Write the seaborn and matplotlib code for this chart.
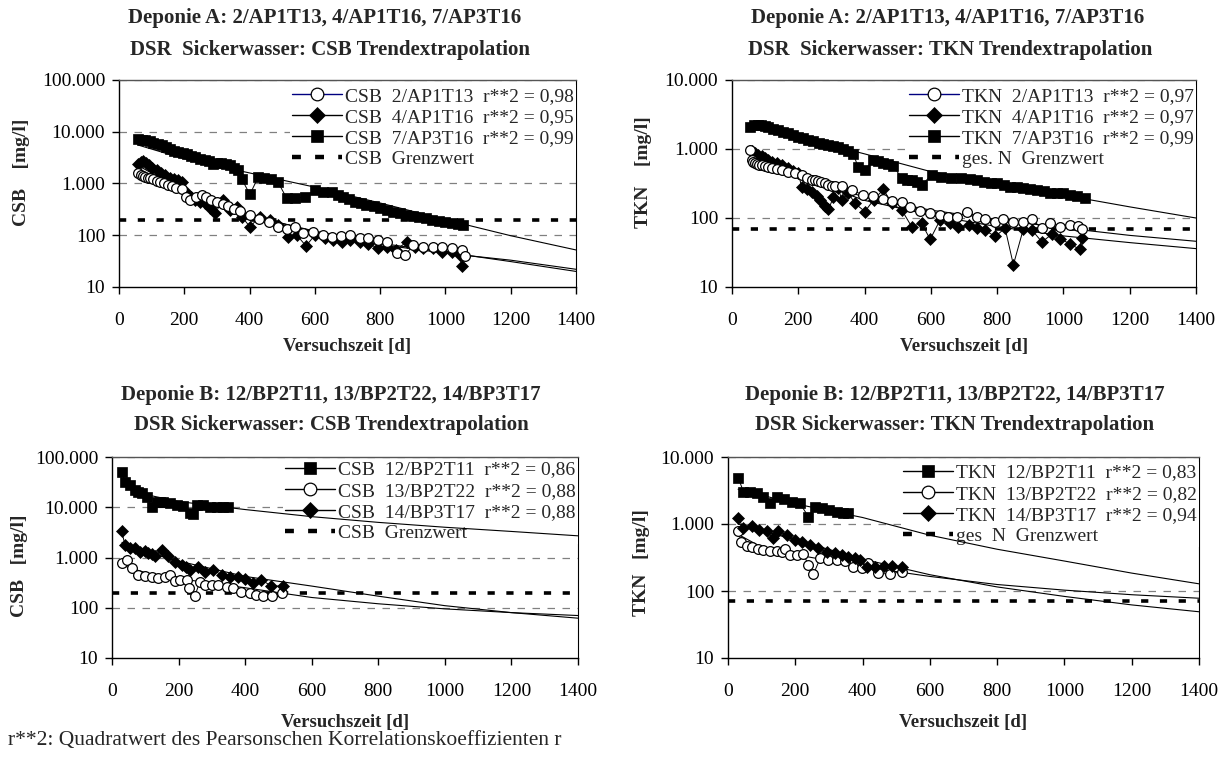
import numpy as np
import pandas as pd
import seaborn as sns
import matplotlib.pyplot as plt
from matplotlib.lines import Line2D
from matplotlib.ticker import NullLocator

# ---------------- data ----------------
# Deponie A, CSB
a_csb7_x = [59, 70, 80, 95, 105, 120, 131, 145, 156, 170, 182, 195, 207, 220, 233, 248, 263, 275, 289, 300,
            314, 327, 340, 352, 365, 376, 401, 427, 445, 465, 486, 514, 539, 570, 600, 625, 651, 670, 687, 705,
            723, 740, 758, 780, 800, 820, 840, 860, 880, 900, 920, 940, 960, 980, 1000, 1020, 1040, 1054]
a_csb7_y = [7150, 7000, 6930, 6600, 6150, 5800, 5550, 5000, 4580, 4300, 4120, 3900, 3710, 3450, 3200, 3000,
            2840, 2700, 2400, 2450, 2500, 2350, 2270, 2000, 1820, 1220, 616, 1350, 1250, 1200, 1090, 517, 517,
            556, 748, 700, 695, 600, 560, 500, 447, 420, 385, 360, 340, 310, 285, 265, 245, 235, 225, 215, 200,
            190, 182, 176, 168, 160]
a_csb2_x = [59, 66, 73, 80, 88, 96, 105, 115, 125, 138, 150, 162, 175, 192, 205, 218, 235, 253, 268, 283,
            300, 318, 335, 352, 370, 401, 430, 460, 488, 515, 539, 565, 595, 626, 651, 680, 707, 738, 764, 792,
            820, 851, 876, 902, 932, 963, 989, 1020, 1051, 1060]
a_csb2_y = [1570, 1450, 1400, 1350, 1300, 1250, 1200, 1100, 1050, 1000, 950, 880, 820, 780, 560, 480, 560,
            600, 550, 480, 430, 400, 360, 320, 290, 246, 210, 180, 146, 130, 146, 110, 118, 101, 94, 95, 101,
            87, 87, 80, 75, 45, 41, 65, 60, 60, 60, 56, 51, 40]
a_csb4_x = [59, 66, 74, 82, 92, 102, 115, 128, 142, 156, 170, 182, 192, 207, 220, 233, 248, 263, 278, 294,
            319, 340, 360, 376, 401, 432, 462, 488, 518, 545, 573, 600, 631, 656, 682, 707, 738, 763, 794, 820,
            850, 881, 906, 932, 963, 989, 1020, 1045, 1050]
a_csb4_y = [2380, 2600, 2720, 2500, 2250, 2000, 1800, 1600, 1450, 1300, 1200, 1150, 1085, 650, 560, 480, 430,
            414, 330, 265, 480, 307, 355, 229, 146, 229, 197, 158, 93, 100, 62, 101, 87, 81, 75, 81, 75, 69,
            56, 60, 52, 75, 60, 56, 56, 48, 48, 41, 25]
a_fit_x = [60, 200, 400, 600, 800, 1000, 1200, 1400]
a_csb7_fit = [5500, 3000, 1600, 850, 420, 200, 98, 52]
a_csb2_fit = [1600, 600, 240, 120, 70, 47, 31, 20]
a_csb4_fit = [2200, 700, 250, 115, 66, 45, 33, 22]

# Deponie A, TKN
a_tkn7_x = [55, 66, 77, 88, 99, 110, 125, 140, 155, 170, 185, 200, 215, 230, 245, 261, 276, 291, 306, 321,
            336, 351, 366, 380, 401, 426, 441, 457, 472, 487, 512, 527, 542, 557, 572, 602, 632, 660, 690, 718,
            740, 759, 780, 799, 820, 839, 860, 879, 900, 920, 940, 960, 980, 1000, 1020, 1041, 1066]
a_tkn7_y = [2100, 2200, 2230, 2200, 2150, 2060, 1980, 1880, 1780, 1690, 1600, 1510, 1430, 1350, 1290, 1235,
            1190, 1143, 1100, 1057, 1000, 920, 850, 555, 497, 693, 660, 634, 600, 568, 376, 360, 355, 330, 301,
            417, 398, 385, 376, 363, 350, 336, 325, 318, 300, 285, 278, 270, 262, 255, 245, 233, 230, 228, 218,
            209, 193]
a_tkn2_x = [54, 59, 64, 70, 76, 82, 90, 100, 110, 120, 135, 150, 170, 190, 210, 225, 240, 250, 260, 270,
            280, 291, 301, 311, 331, 361, 396, 426, 457, 482, 512, 537, 567, 598, 628, 653, 678, 709, 739, 764,
            795, 819, 849, 879, 904, 935, 960, 990, 1020, 1045, 1055]
a_tkn2_y = [968, 700, 650, 620, 600, 590, 586, 560, 540, 525, 510, 490, 470, 450, 420, 376, 360, 355, 345,
            336, 320, 301, 295, 294, 290, 255, 215, 209, 186, 178, 169, 143, 128, 117, 110, 105, 103, 123, 104,
            96, 88, 96, 88, 88, 96, 71, 85, 75, 78, 76, 70]
a_tkn4_x = [59, 70, 79, 90, 100, 110, 120, 135, 150, 170, 185, 200, 210, 225, 241, 256, 266, 280, 291, 306,
            321, 331, 351, 371, 401, 427, 457, 482, 512, 542, 572, 598, 628, 658, 683, 714, 739, 764, 794, 824,
            849, 879, 904, 935, 965, 990, 1020, 1050, 1055]
a_tkn4_y = [920, 870, 820, 780, 740, 700, 656, 620, 580, 525, 480, 450, 284, 260, 241, 210, 182, 150, 133,
            200, 270, 182, 230, 163, 124, 182, 260, 163, 131, 75, 84, 49, 94, 84, 73, 79, 71, 66, 54, 71, 21,
            69, 68, 45, 58, 50, 42, 35, 52]
a_tkn7_fit = [2100, 1500, 850, 470, 320, 215, 145, 100]
a_tkn2_fit = [900, 420, 200, 130, 95, 72, 56, 46]
a_tkn4_fit = [950, 400, 180, 110, 75, 55, 44, 36]

# Deponie B, CSB
b_csb12_x = [29, 39, 54, 69, 79, 89, 104, 119, 134, 144, 154, 174, 194, 214, 234, 244, 254, 274, 294, 314, 334, 349]
b_csb12_y = [51000, 32300, 27700, 22000, 20000, 18900, 16200, 10300, 12900, 12500, 12900, 11950, 11100, 10700,
             7570, 7300, 11100, 11100, 10300, 10000, 10000, 10000]
b_csb13_x = [29, 44, 59, 79, 99, 119, 139, 159, 174, 189, 204, 224, 232, 249, 264, 279, 299, 319, 344, 364,
             389, 414, 434, 454, 482, 512]
b_csb13_y = [765, 890, 608, 448, 428, 403, 385, 403, 448, 347, 360, 360, 244, 172, 331, 284, 284, 284, 263,
             244, 209, 194, 180, 172, 172, 194]
b_csb14_x = [29, 39, 54, 69, 84, 99, 109, 119, 129, 149, 169, 189, 209, 222, 234, 259, 279, 304, 329, 354,
             379, 399, 424, 449, 479, 513]
b_csb14_y = [3370, 1770, 1520, 1580, 1300, 1350, 1250, 1150, 1050, 1410, 1050, 826, 710, 650, 564, 656, 522,
             564, 449, 416, 403, 368, 316, 357, 271, 271]
b_fit_x = [30, 100, 200, 400, 600, 800, 1000, 1200, 1400]
b_csb12_fit = [30000, 18000, 13000, 9000, 6500, 5000, 4000, 3300, 2700]
b_csb13_fit = [700, 500, 380, 250, 160, 120, 95, 80, 70]
b_csb14_fit = [2000, 1300, 850, 420, 270, 170, 110, 80, 62]

# Deponie B, TKN
b_tkn12_x = [31, 46, 65, 85, 105, 125, 145, 165, 189, 214, 239, 259, 279, 299, 324, 343, 358]
b_tkn12_y = [4810, 3030, 3030, 2870, 2560, 2030, 2560, 2340, 2150, 2030, 1285, 1810, 1710, 1620, 1530, 1480, 1440]
b_tkn13_x = [29, 40, 55, 70, 88, 105, 125, 145, 160, 169, 184, 204, 224, 239, 254, 274, 298, 323, 348, 373,
             397, 417, 447, 481, 517]
b_tkn13_y = [776, 545, 470, 449, 419, 409, 400, 400, 386, 419, 344, 344, 356, 244, 179, 307, 290, 290, 277,
             231, 218, 259, 184, 179, 195]
b_tkn14_x = [31, 46, 71, 91, 115, 135, 150, 175, 199, 219, 244, 269, 294, 319, 339, 358, 378, 393, 413, 438,
             463, 488, 517]
b_tkn14_y = [1215, 861, 923, 822, 776, 611, 776, 692, 577, 545, 486, 433, 386, 365, 344, 325, 307, 294, 231,
             231, 238, 238, 231]
b_tkn12_fit = [3300, 2700, 2000, 1250, 680, 420, 280, 185, 128]
b_tkn13_fit = [700, 450, 350, 230, 165, 125, 103, 88, 78]
b_tkn14_fit = [1000, 800, 580, 300, 175, 115, 83, 62, 49]

csb_limit = 200
tkn_limit = 70

# ---------------- style ----------------
sns.set_style("white")
plt.rcParams['font.family'] = ['Liberation Serif', 'DejaVu Serif']

W, H = 1228, 778
fig = plt.figure(figsize=(W / 100, H / 100), dpi=100)


def px_axes(l, r, t, b):
    return fig.add_axes([l / W, 1 - b / H, (r - l) / W, (b - t) / H])


MARK = {
    's': dict(marker='s', markersize=6.8, markerfacecolor='black', markeredgecolor='black', markeredgewidth=0.5),
    'o': dict(marker='o', markersize=7.0, markerfacecolor='white', markeredgecolor='black', markeredgewidth=0.9),
    'D': dict(marker='D', markersize=6.5, markerfacecolor='black', markeredgecolor='black', markeredgewidth=0.5),
}
LIMIT_DASH = (0, (2.0, 3.2))


def panel(ax, ymax, yticklabels, series, fit_x, limit, legend_items, legend_y):
    # trend lines
    for fit in [s[3] for s in series]:
        sns.lineplot(x=fit_x, y=fit, ax=ax, color='black', lw=0.8, sort=False, errorbar=None, zorder=2)
    # measured values
    for xs, ys, mk, fit in series:
        sns.lineplot(x=xs, y=ys, ax=ax, color='black', lw=0.7, sort=False, errorbar=None, zorder=3, **MARK[mk])
    ax.axhline(limit, color='black', lw=2.6, ls=LIMIT_DASH, zorder=2.5)

    ax.set_yscale('log')
    ax.set_xlim(0, 1400)
    ax.set_ylim(10, ymax)
    yt = [10 ** k for k in range(1, len(yticklabels) + 1)]
    ax.set_yticks(yt)
    ax.set_yticklabels(yticklabels)
    ax.yaxis.set_minor_locator(NullLocator())
    ax.set_xticks(range(0, 1401, 200))
    ax.set_xticklabels([str(v) for v in range(0, 1401, 200)])
    ax.set_xlabel('')
    ax.set_ylabel('')
    for v in yt[1:]:
        ax.axhline(v, color='#808080', lw=0.9, ls=(0, (6, 6)), zorder=0.5)
    ax.tick_params(axis='both', direction='out', length=5, width=1, labelsize=14,
                   bottom=True, left=True, colors='black')
    ax.tick_params(axis='x', pad=13)
    ax.tick_params(axis='y', pad=5)
    for side in ['left', 'bottom']:
        ax.spines[side].set_color('black')
        ax.spines[side].set_linewidth(1.0)
    ax.spines['right'].set_color('black')
    ax.spines['right'].set_zorder(1)
    ax.spines['top'].set_color('#555555')
    ax.spines['top'].set_linewidth(1.0)

    handles, labels = [], []
    for mk, lab, col in legend_items:
        if mk is None:
            h = Line2D([], [], color='black', lw=3.2, ls=LIMIT_DASH)
        else:
            kw = dict(MARK[mk])
            kw['markersize'] = kw['markersize'] * 1.3
            h = Line2D([], [], color=col, lw=1.0, **kw)
        handles.append(h)
        labels.append(lab)
    leg = ax.legend(handles, labels, loc='upper right', bbox_to_anchor=(1.0, legend_y),
                    frameon=True, framealpha=1, facecolor='white', edgecolor='none', fancybox=False,
                    borderpad=0.1, labelspacing=0.18, handlelength=2.6, handletextpad=0.15,
                    borderaxespad=0, fontsize=14)
    leg.set_zorder(1.5)


ax1 = px_axes(119, 576, 80, 287)
panel(ax1, 100000, ['10', '100', '1.000', '10.000', '100.000'],
      [(a_csb7_x, a_csb7_y, 's', a_csb7_fit),
       (a_csb4_x, a_csb4_y, 'D', a_csb4_fit),
       (a_csb2_x, a_csb2_y, 'o', a_csb2_fit)],
      a_fit_x, csb_limit,
      [('o', 'CSB  2/AP1T13  r**2 = 0,98', '#000080'),
       ('D', 'CSB  4/AP1T16  r**2 = 0,95', 'black'),
       ('s', 'CSB  7/AP3T16  r**2 = 0,99', 'black'),
       (None, 'CSB  Grenzwert', 'black')], 0.975)

ax2 = px_axes(732, 1196, 80, 287)
panel(ax2, 10000, ['10', '100', '1.000', '10.000'],
      [(a_tkn7_x, a_tkn7_y, 's', a_tkn7_fit),
       (a_tkn4_x, a_tkn4_y, 'D', a_tkn4_fit),
       (a_tkn2_x, a_tkn2_y, 'o', a_tkn2_fit)],
      a_fit_x, tkn_limit,
      [('o', 'TKN  2/AP1T13  r**2 = 0,97', '#000080'),
       ('D', 'TKN  4/AP1T16  r**2 = 0,97', 'black'),
       ('s', 'TKN  7/AP3T16  r**2 = 0,99', 'black'),
       (None, 'ges. N  Grenzwert', 'black')], 0.975)

ax3 = px_axes(112, 578, 457, 658)
panel(ax3, 100000, ['10', '100', '1.000', '10.000', '100.000'],
      [(b_csb12_x, b_csb12_y, 's', b_csb12_fit),
       (b_csb13_x, b_csb13_y, 'o', b_csb13_fit),
       (b_csb14_x, b_csb14_y, 'D', b_csb14_fit)],
      b_fit_x, csb_limit,
      [('s', 'CSB  12/BP2T11  r**2 = 0,86', 'black'),
       ('o', 'CSB  13/BP2T22  r**2 = 0,88', 'black'),
       ('D', 'CSB  14/BP3T17  r**2 = 0,88', 'black'),
       (None, 'CSB  Grenzwert', 'black')], 0.99)

ax4 = px_axes(728, 1199, 457, 658)
panel(ax4, 10000, ['10', '100', '1.000', '10.000'],
      [(b_tkn12_x, b_tkn12_y, 's', b_tkn12_fit),
       (b_tkn13_x, b_tkn13_y, 'o', b_tkn13_fit),
       (b_tkn14_x, b_tkn14_y, 'D', b_tkn14_fit)],
      b_fit_x, tkn_limit,
      [('s', 'TKN  12/BP2T11  r**2 = 0,83', 'black'),
       ('o', 'TKN  13/BP2T22  r**2 = 0,82', 'black'),
       ('D', 'TKN  14/BP3T17  r**2 = 0,94', 'black'),
       (None, 'ges  N  Grenzwert', 'black')], 0.975)


def ftext(x, y, s, **kw):
    fig.text(x / W, 1 - y / H, s, **kw)


bold = dict(fontweight='bold', ha='center', va='center')
ftext(325, 18, 'Deponie A: 2/AP1T13, 4/AP1T16, 7/AP3T16', fontsize=15, **bold)
ftext(330, 50, 'DSR  Sickerwasser: CSB Trendextrapolation', fontsize=15, **bold)
ftext(948, 18, 'Deponie A: 2/AP1T13, 4/AP1T16, 7/AP3T16', fontsize=15, **bold)
ftext(950, 50, 'DSR  Sickerwasser: TKN Trendextrapolation', fontsize=15, **bold)
ftext(331, 395, 'Deponie B: 12/BP2T11, 13/BP2T22, 14/BP3T17', fontsize=15, **bold)
ftext(331, 425, 'DSR Sickerwasser: CSB Trendextrapolation', fontsize=15, **bold)
ftext(955, 395, 'Deponie B: 12/BP2T11, 13/BP2T22, 14/BP3T17', fontsize=15, **bold)
ftext(955, 425, 'DSR Sickerwasser: TKN Trendextrapolation', fontsize=15, **bold)

ftext(347, 346, 'Versuchszeit [d]', fontsize=13.5, **bold)
ftext(964, 346, 'Versuchszeit [d]', fontsize=13.5, **bold)
ftext(345, 723, 'Versuchszeit [d]', fontsize=13.5, **bold)
ftext(963, 723, 'Versuchszeit [d]', fontsize=13.5, **bold)

ftext(22, 172, 'CSB    [mg/l]', fontsize=14, rotation=90, **bold)
ftext(643, 172, 'TKN    [mg/l]', fontsize=14, rotation=90, **bold)
ftext(20, 566, 'CSB   [mg/l]', fontsize=14, rotation=90, **bold)
ftext(641, 563, 'TKN   [mg/l]', fontsize=14, rotation=90, **bold)

ftext(8, 741, 'r**2: Quadratwert des Pearsonschen Korrelationskoeffizienten r', fontsize=15.5, ha='left', va='center')

fig.savefig('out.png', dpi=100)
